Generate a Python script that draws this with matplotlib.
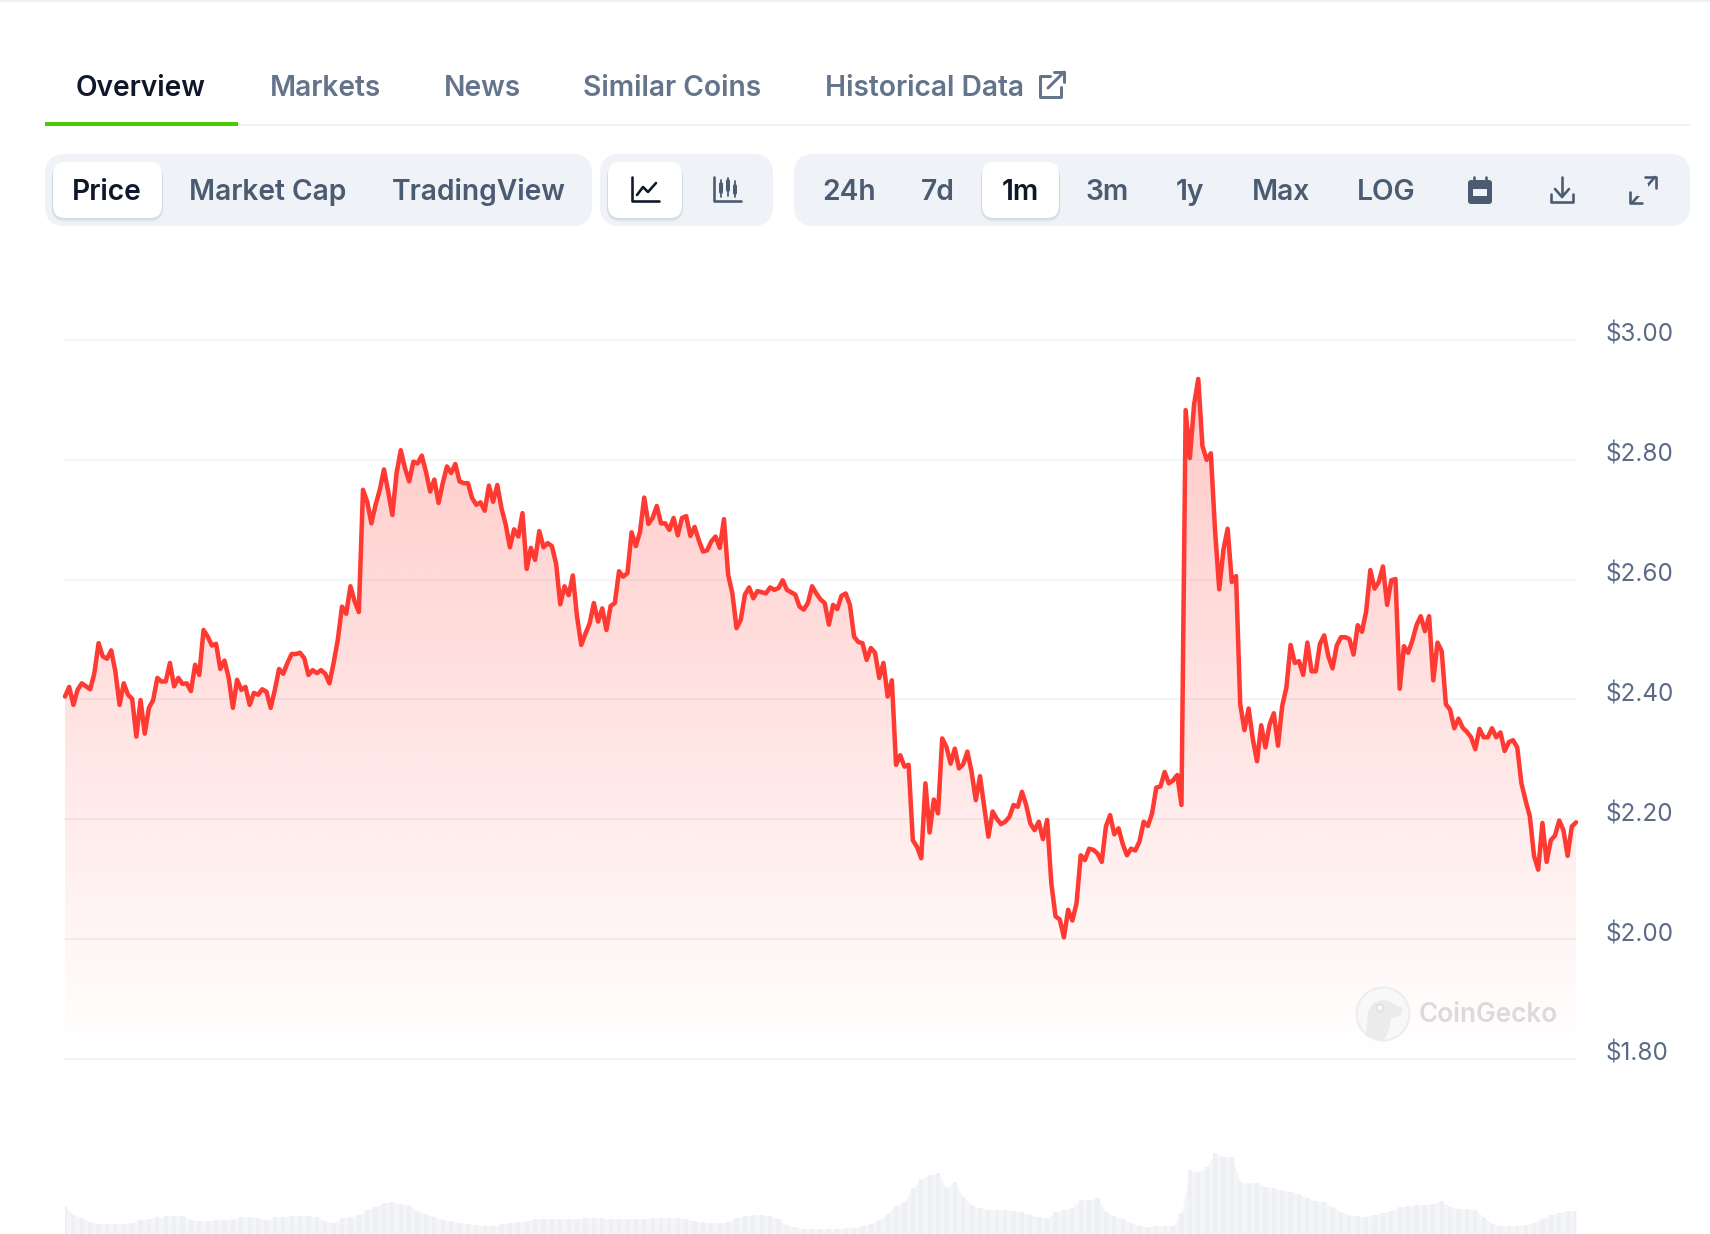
import numpy as np
import matplotlib
matplotlib.use("Agg")
import matplotlib.pyplot as plt
from matplotlib.patches import FancyBboxPatch, Circle, Polygon, Rectangle
from matplotlib.transforms import ScaledTranslation

# ---------- data ----------
price = [
 2.405,2.421,2.391,2.416,2.427,2.422,2.417,2.444,2.494,2.472,2.468,2.482,2.447,2.391,2.427,2.408,2.401,2.338,2.399,2.343,
 2.386,2.399,2.436,2.430,2.430,2.461,2.422,2.436,2.426,2.427,2.414,2.458,2.441,2.516,2.505,2.490,2.493,2.451,2.465,2.436,
 2.386,2.433,2.416,2.421,2.391,2.411,2.408,2.417,2.413,2.386,2.416,2.451,2.443,2.461,2.476,2.476,2.478,2.469,2.441,2.449,
 2.444,2.449,2.443,2.427,2.461,2.500,2.555,2.543,2.589,2.564,2.546,2.750,2.730,2.694,2.725,2.750,2.784,2.747,2.708,2.778,
 2.816,2.786,2.764,2.797,2.794,2.807,2.780,2.747,2.767,2.728,2.761,2.789,2.778,2.793,2.764,2.761,2.761,2.736,2.725,2.729,
 2.715,2.757,2.730,2.758,2.719,2.692,2.654,2.684,2.672,2.711,2.618,2.653,2.633,2.681,2.654,2.661,2.656,2.627,2.559,2.589,
 2.574,2.607,2.538,2.491,2.510,2.527,2.561,2.530,2.552,2.516,2.556,2.561,2.614,2.605,2.611,2.679,2.656,2.680,2.737,2.693,
 2.703,2.723,2.694,2.694,2.683,2.703,2.674,2.703,2.706,2.673,2.688,2.666,2.647,2.649,2.664,2.672,2.653,2.701,2.608,2.577,
 2.519,2.533,2.575,2.587,2.569,2.581,2.579,2.577,2.587,2.583,2.586,2.599,2.583,2.579,2.575,2.555,2.550,2.561,2.589,2.577,
 2.567,2.561,2.525,2.558,2.551,2.573,2.577,2.558,2.505,2.496,2.494,2.466,2.486,2.478,2.436,2.461,2.405,2.432,2.291,2.307,
 2.288,2.291,2.165,2.154,2.135,2.260,2.178,2.233,2.210,2.335,2.321,2.293,2.318,2.285,2.292,2.313,2.279,2.232,2.272,2.221,
 2.171,2.213,2.201,2.192,2.196,2.204,2.224,2.221,2.246,2.224,2.193,2.182,2.196,2.167,2.199,2.093,2.038,2.033,2.003,2.049,
 2.031,2.060,2.140,2.132,2.151,2.149,2.143,2.129,2.188,2.207,2.175,2.185,2.159,2.140,2.151,2.148,2.163,2.196,2.189,2.210,
 2.253,2.255,2.279,2.260,2.265,2.274,2.224,2.883,2.803,2.892,2.935,2.823,2.800,2.811,2.682,2.584,2.650,2.685,2.596,2.606,
 2.392,2.349,2.385,2.334,2.297,2.357,2.320,2.358,2.377,2.323,2.389,2.420,2.491,2.461,2.464,2.441,2.495,2.447,2.447,2.493,
 2.507,2.472,2.452,2.490,2.504,2.504,2.501,2.475,2.524,2.513,2.547,2.616,2.585,2.596,2.622,2.558,2.599,2.601,2.418,2.489,
 2.478,2.498,2.524,2.539,2.514,2.539,2.432,2.495,2.481,2.392,2.383,2.352,2.368,2.353,2.346,2.337,2.317,2.351,2.337,2.337,
 2.352,2.337,2.345,2.314,2.329,2.332,2.320,2.260,2.231,2.205,2.139,2.116,2.194,2.129,2.165,2.173,2.198,2.182,2.139,2.188,
 2.195]

volume = [
 28,19,16,12,10,10,10,10,11,14,15,17,18,18,18,14,13,13,14,14,15,17,17,16,14,17,17,18,18,18,
 17,13,11,16,17,19,24,27,31,32,30,29,23,20,17,14,13,11,10,9,8,8,10,11,12,13,15,15,15,15,
 15,15,16,16,16,15,15,15,15,15,16,16,16,16,15,13,12,11,11,12,16,18,19,19,18,15,9,7,5,5,
 5,5,5,6,6,8,10,14,20,28,32,46,55,59,61,46,52,37,29,26,24,24,24,23,22,19,17,16,22,24,
 26,34,34,36,22,18,15,11,8,7,8,8,8,21,64,62,67,81,77,77,52,51,51,47,46,44,42,40,36,33,
 32,27,22,19,18,17,19,21,23,27,28,29,29,30,33,27,25,25,24,17,10,8,8,8,9,11,15,19,21,23,23]

price_ticks = [3.00, 2.80, 2.60, 2.40, 2.20, 2.00, 1.80]
price_tick_labels = ["$3.00", "$2.80", "$2.60", "$2.40", "$2.20", "$2.00", "$1.80"]

tabs = ["Overview", "Markets", "News", "Similar Coins", "Historical Data"]
metric_buttons = ["Price", "Market Cap", "TradingView"]
range_buttons = ["24h", "7d", "1m", "3m", "1y", "Max", "LOG"]

# ---------- setup ----------
W, H = 1710, 1234
plt.rcParams["font.family"] = ["Inter", "DejaVu Sans"]
fig = plt.figure(figsize=(W / 100, H / 100), dpi=100, facecolor="white")
PX = 0.72  # points per pixel

ui = fig.add_axes([0, 0, 1, 1])
ui.set_xlim(0, W)
ui.set_ylim(H, 0)
ui.axis("off")

INK, SLATE, BTN, PANEL, RULE = "#0f172a", "#64748b", "#4b5b72", "#eff2f7", "#eff2f5"


def rbox(x0, y0, x1, y1, r, fc, z=1, alpha=1):
    ui.add_patch(FancyBboxPatch((x0 + r, y0 + r), x1 - x0 - 2 * r, y1 - y0 - 2 * r,
                                boxstyle=f"round,pad={r},rounding_size={r}",
                                fc=fc, ec="none", zorder=z, alpha=alpha))


def white_btn(x0, x1):
    for off, a in ((4, .05), (2.5, .07), (1.2, .09)):
        rbox(x0 - 1, 162 + off, x1 + 1, 218 + off, 13, "#64748b", 2, a)
    rbox(x0, 162, x1, 218, 12, "white", 3)


def stroke(xs, ys, color=BTN, lw=2.6, z=5):
    ui.plot(xs, ys, color=color, lw=lw * PX, solid_capstyle="round",
            solid_joinstyle="round", zorder=z)


# top hairline and tab rule
ui.add_patch(Rectangle((0, 0), W, 2, fc=RULE, ec="none"))
ui.add_patch(Rectangle((45, 124), 1645, 2, fc=RULE, ec="none"))
ui.add_patch(Rectangle((45, 122), 193, 4, fc="#4bcc00", ec="none", zorder=2))

# tabs
FS = 28.2 * PX
tab_x = [141, 325, 482, 672, 924]
for i, (t, x) in enumerate(zip(tabs, tab_x)):
    ui.text(x, 96, t, ha="center", va="baseline", fontsize=FS, fontweight=600,
            color=INK if i == 0 else SLATE, zorder=5)

# external-link icon
c = SLATE
stroke([1050, 1040, 1040, 1061, 1061], [76, 76, 97, 97, 87], c, 3)
stroke([1048, 1064], [88, 72], c, 3)
stroke([1054, 1064, 1064], [72, 72, 82], c, 3)

# button panels
rbox(45, 154, 592, 226, 20, PANEL)
rbox(600, 154, 773, 226, 20, PANEL)
rbox(794, 154, 1690, 226, 20, PANEL)
white_btn(53, 162)
white_btn(608, 682)
white_btn(982, 1059)

metric_x = [107, 268, 479]
for i, (t, x) in enumerate(zip(metric_buttons, metric_x)):
    ui.text(x, 200, t, ha="center", va="baseline", fontsize=FS, fontweight=600,
            color=INK if i == 0 else BTN, zorder=5)

range_x = [849, 938, 1020, 1107, 1190, 1281, 1386]
for t, x in zip(range_buttons, range_x):
    ui.text(x, 200, t, ha="center", va="baseline", fontsize=FS, fontweight=600,
            color=INK if t == "1m" else BTN, zorder=5)

# line-chart icon
stroke([632, 632, 659], [177, 201, 201], INK)
stroke([637, 643, 648, 656], [195, 187, 192, 183], INK)
# candlestick icon
stroke([714, 714, 741], [177, 201, 201], BTN)
for x, y0, y1, b0, b1 in ((721, 180, 197, 184, 192), (728, 178, 196, 181, 190), (735, 181, 197, 186, 193)):
    stroke([x, x], [y0, y1], BTN, 1.8)
    stroke([x, x], [b0, b1], BTN, 4)
# calendar icon
rbox(1468, 180, 1492, 204, 3, BTN, 5)
stroke([1474, 1474], [177, 182], BTN)
stroke([1486, 1486], [177, 182], BTN)
ui.add_patch(Rectangle((1473, 189), 14, 7, fc=PANEL, ec="none", zorder=6))
# download icon
stroke([1562, 1562], [177, 196], BTN)
stroke([1555, 1562, 1569], [189, 197, 189], BTN)
stroke([1551, 1551, 1573, 1573], [194, 202, 202, 194], BTN)
# expand icon
stroke([1632, 1655], [203, 177], BTN)
for xs, ys in (([1645, 1656, 1656], [177, 177, 188]), ([1630, 1630, 1642], [192, 203, 203])):
    stroke(xs, ys, BTN)
ui.add_patch(Rectangle((1637, 184), 11, 12, fc=PANEL, ec="none", zorder=6))

# ---------- price chart ----------
ax = fig.add_axes([65 / W, 1 - 1059 / H, (1576 - 65) / W, (1059 - 340) / H], facecolor="none")
x = np.arange(len(price))
ax.set_xlim(0, len(price) - 1)
ax.set_ylim(1.8, 3.0)
for s in ax.spines.values():
    s.set_visible(False)
ax.set_xticks([])
ax.yaxis.tick_right()
ax.set_yticks(price_ticks)
ax.set_yticklabels(price_tick_labels)
ax.tick_params(axis="y", length=0, pad=29 * PX, labelsize=24.2 * PX, labelcolor="#5b6b86")
shift = ScaledTranslation(0, 7.5 / 100, fig.dpi_scale_trans)
for lab in ax.get_yticklabels():
    lab.set_transform(lab.get_transform() + shift)
ax.grid(axis="y", color=RULE, lw=1.6 * PX, zorder=0, clip_on=False)
ax.set_axisbelow(True)

poly = ax.fill_between(x, price, 1.8, facecolor="none", edgecolor="none")
grad = np.zeros((256, 2, 4))
grad[..., 0] = 1.0
grad[..., 1] = 0x3a / 255
grad[..., 2] = 0x33 / 255
grad[..., 3] = np.linspace(0.29, 0.0, 256)[:, None]
im = ax.imshow(grad, extent=(0, len(price) - 1, 1.8, 3.0), aspect="auto", origin="upper",
               interpolation="bilinear", zorder=1)
im.set_clip_path(poly.get_paths()[0], transform=ax.transData)
ax.plot(x, price, color="#ff3a33", lw=4.5 * PX, solid_joinstyle="round", solid_capstyle="round",
        zorder=3, clip_on=False)
ax.set_xlim(0, len(price) - 1)
ax.set_ylim(1.8, 3.0)

# ---------- volume ----------
vax = fig.add_axes([65 / W, 0, (1576 - 65) / W, 100 / H], facecolor="none")
vk = np.arange(len(volume)) * 2
vax.fill_between(vk, volume, 0, color="#f4f5f8", lw=0)
vax.bar(vk, volume, width=1.0, color="#eef0f4", lw=0)
vax.set_xlim(0, 360)
vax.set_ylim(0, 100)
vax.axis("off")

# ---------- watermark ----------
wm = fig.add_axes([0, 0, 1, 1], facecolor="none")
wm.set_xlim(0, W)
wm.set_ylim(H, 0)
wm.axis("off")
wm.add_patch(Circle((1383, 1014), 26.5, fc="#f8f8f8", ec="#ececec", lw=2 * PX, alpha=.9))
wm.add_patch(Polygon([(1366, 1036), (1368, 1012), (1373, 1003), (1384, 999), (1392, 1003),
                      (1402, 1008), (1401, 1015), (1391, 1019), (1389, 1030), (1384, 1040)],
                     closed=True, fc="#ebebeb", ec="none", joinstyle="round"))
wm.add_patch(Circle((1380, 1008), 3.5, fc="#f9f9f9", ec="#dddddd", lw=1))
wm.text(1488, 1022, "CoinGecko", ha="center", va="baseline", fontsize=26.2 * PX,
        fontweight=600, color="#dadada")

fig.savefig("out.png", dpi=100, facecolor="white")
